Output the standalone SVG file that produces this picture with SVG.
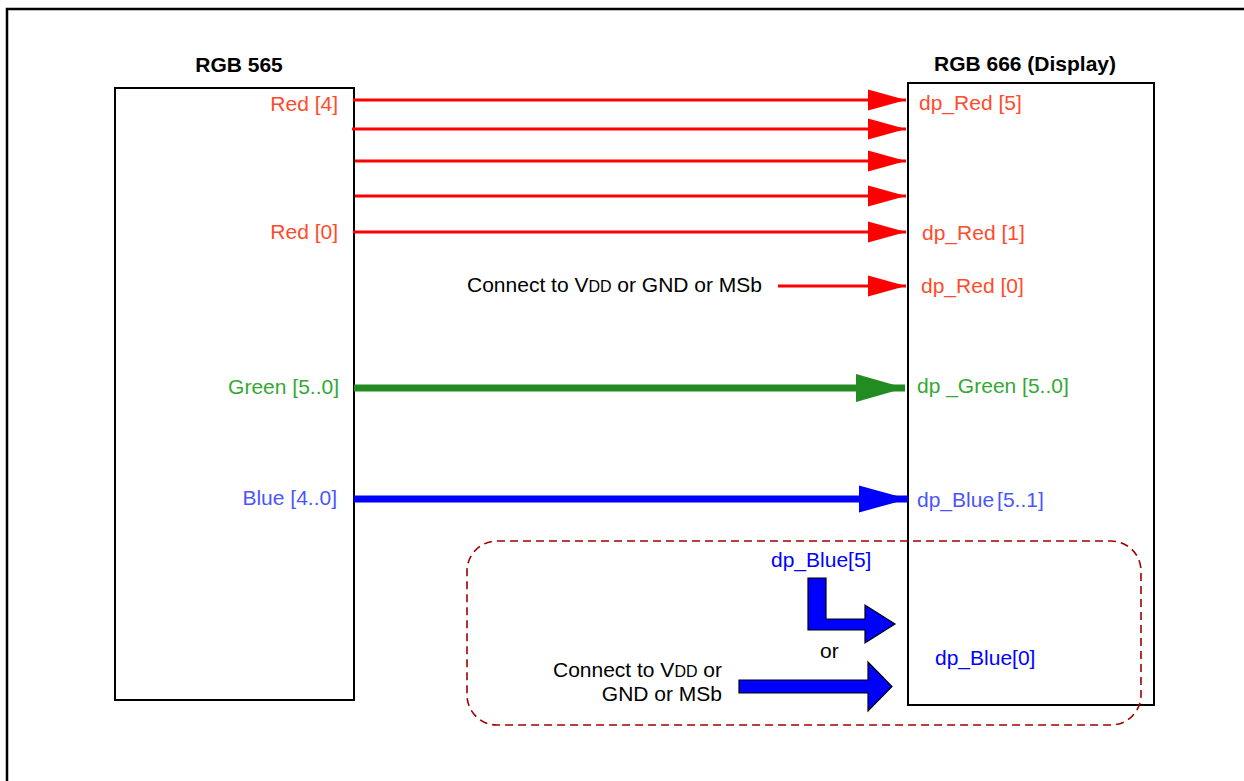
<svg xmlns="http://www.w3.org/2000/svg" width="1244" height="781" viewBox="0 0 1244 781">
<style>
text{font-family:"Liberation Sans",Arial,sans-serif;font-size:21px}
.t{font-weight:bold;fill:#000;text-anchor:middle}
.red{fill:#FF4B2B}
.grn{fill:#33A833}
.blu{fill:#4B55FF}
.pb{fill:#0000FF}
.blk{fill:#000}
.box{fill:none;stroke:#000;stroke-width:2}
.rl{stroke:#FF0000;stroke-width:3;fill:none;marker-end:url(#ah-red)}
.sm{font-size:16px}
</style>
<defs>
<marker id="ah-red" markerUnits="userSpaceOnUse" markerWidth="38" markerHeight="22" refX="38" refY="11" orient="auto"><path d="M0,0.5 L38,11 L0,21.5 Z" fill="#FF0000"/></marker>
<marker id="ah-green" markerUnits="userSpaceOnUse" markerWidth="49" markerHeight="28" refX="49" refY="14" orient="auto"><path d="M0,0 L49,14 L0,28 Z" fill="#228B22"/></marker>
<marker id="ah-blue" markerUnits="userSpaceOnUse" markerWidth="49" markerHeight="28" refX="49" refY="14" orient="auto"><path d="M0,0.5 L49,14 L0,27.5 Z" fill="#0000FF"/></marker>
</defs>
<rect width="1244" height="781" fill="#fff"/>
<path d="M7,790 L7,9 L1250,9" fill="none" stroke="#000" stroke-width="2.5"/>
<g id="rgb565">
<rect class="box" x="115" y="88" width="239" height="612"/>
<text class="t" x="239" y="72">RGB 565</text>
<text class="red" x="338" y="111" text-anchor="end">Red [4]</text>
<text class="red" x="338" y="239" text-anchor="end">Red [0]</text>
<text class="grn" x="339" y="394" text-anchor="end">Green [5..0]</text>
<text class="blu" x="337" y="505" text-anchor="end">Blue [4..0]</text>
</g>
<g id="rgb666">
<rect class="box" x="908" y="83" width="246" height="622"/>
<text class="t" x="1025" y="71">RGB 666 (Display)</text>
<text class="red" x="919" y="110">dp_Red [5]</text>
<text class="red" x="922" y="240">dp_Red [1]</text>
<text class="red" x="921" y="293">dp_Red [0]</text>
<text class="grn" x="917" y="393">dp _Green [5..0]</text>
<text class="blu" x="917" y="507">dp_Blue<tspan dx="3">[5..1]</tspan></text>
<text class="pb" x="935" y="665">dp_Blue[0]</text>
</g>
<g id="vdd-note">
<text class="blk" x="467" y="292">Connect to V<tspan class="sm">DD</tspan> or GND or MSb</text>
</g>
<g id="blue0-option">
<rect x="467" y="541" width="674" height="184" rx="30" ry="30" fill="none" stroke="#A00000" stroke-width="1.6" stroke-dasharray="8,5"/>
<text class="pb" x="771" y="567">dp_Blue[5]</text>
<text class="blk" x="820" y="658">or</text>
<text class="blk" x="722" y="677" text-anchor="end">Connect to V<tspan class="sm">DD</tspan> or</text>
<text class="blk" x="722" y="701" text-anchor="end">GND or MSb</text>
</g>
<g id="connectors">
<line class="rl" x1="353" y1="100" x2="906" y2="100"/>
<line class="rl" x1="352" y1="129" x2="906" y2="129"/>
<line class="rl" x1="355" y1="161" x2="906" y2="161"/>
<line class="rl" x1="355" y1="196" x2="906" y2="196"/>
<line class="rl" x1="353" y1="232" x2="906" y2="232"/>
<line class="rl" x1="778" y1="286" x2="906" y2="286"/>
<line x1="354" y1="388" x2="905" y2="388" stroke="#228B22" stroke-width="7" marker-end="url(#ah-green)"/>
<line x1="354" y1="499" x2="908" y2="499" stroke="#0000FF" stroke-width="7" marker-end="url(#ah-blue)"/>
<path d="M808,578 L826,578 L826,619 L865,619 L865,605 L895,624 L865,643 L865,630 L808,630 Z" fill="#0000FF" stroke="#000" stroke-width="1.2"/>
<path d="M739,680 L868,680 L868,662 L892,686.5 L868,711 L868,693 L739,693 Z" fill="#0000FF" stroke="#000" stroke-width="1.2"/>
</g>
</svg>
